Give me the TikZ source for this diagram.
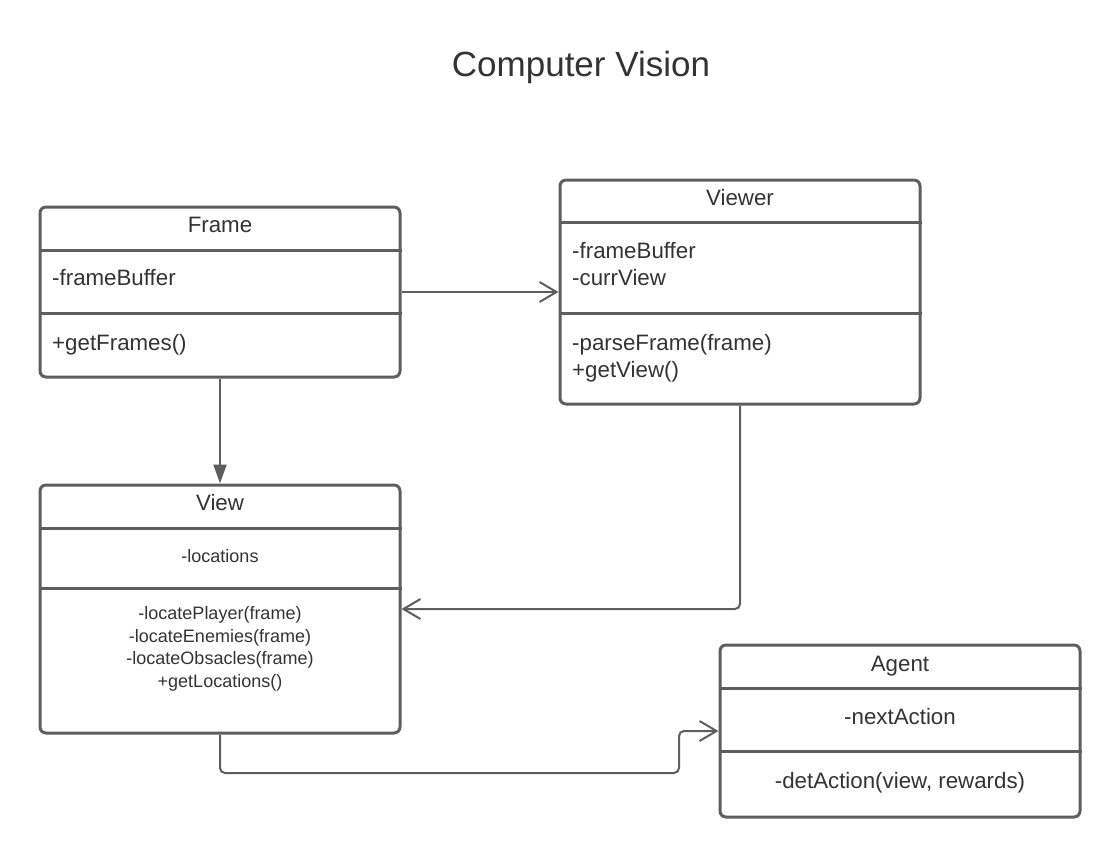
\documentclass[tikz,border=0pt]{standalone}
\usepackage{fontspec}
\setmainfont{Liberation Sans}
\usetikzlibrary{arrows.meta, positioning}

\definecolor{linegray}{HTML}{5E5E5E}
\definecolor{textgray}{HTML}{333333}

\tikzset{
    classbox/.style={draw=linegray, line width=3pt, rounded corners=6pt,
        minimum width=360pt, inner sep=0pt},
    divider/.style={draw=linegray, line width=3pt},
    head/.style={font=\fontsize{22.3}{26}\selectfont, text=textgray,
        text height=0.72em, text depth=0pt, inner sep=0pt},
    member/.style={head, anchor=west},
    small/.style={head, font=\fontsize{18}{22}\selectfont},
    link/.style={draw=linegray, line width=2pt},
    openhead/.style={link, -{Straight Barb[length=17pt, width=20pt]}},
    filledhead/.style={link, -{Triangle[length=19pt, width=13pt]}}
}

\begin{document}
\begin{tikzpicture}[x=1pt, y=-1pt]
    \useasboundingbox (0,0) rectangle (1120,857);

    \node[head, font=\fontsize{35}{40}\selectfont] (title) at (581,73) {Computer Vision};

    % Frame
    \node[classbox, minimum height=170pt] (frame) at (220,292) {};
    \draw[divider] (frame.west |- 0,250) -- (frame.east |- 0,250);
    \draw[divider] (frame.west |- 0,313) -- (frame.east |- 0,313);
    \node[head] (frameName) at (220,229) {Frame};
    \node[member] (frameBuf) at (52,282) {-frameBuffer};
    \node[member] (frameGet) at (52,347) {+getFrames()};

    % Viewer
    \node[classbox, minimum height=224pt] (viewer) at (740,292) {};
    \draw[divider] (viewer.west |- 0,222) -- (viewer.east |- 0,222);
    \draw[divider] (viewer.west |- 0,313) -- (viewer.east |- 0,313);
    \node[head] (viewerName) at (740,202) {Viewer};
    \node[member] (viewerBuf) at (572,255) {-frameBuffer};
    \node[member] (viewerCurr) at (572,282) {-currView};
    \node[member] (viewerParse) at (572,347) {-parseFrame(frame)};
    \node[member] (viewerGet) at (572,374) {+getView()};

    % View
    \node[classbox, minimum height=248pt] (view) at (220,609) {};
    \draw[divider] (view.west |- 0,528) -- (view.east |- 0,528);
    \draw[divider] (view.west |- 0,588) -- (view.east |- 0,588);
    \node[head] (viewName) at (220,507) {View};
    \node[small] (viewLoc) at (220,559) {-locations};
    \node[small] (viewPlayer) at (220,616) {-locatePlayer(frame)};
    \node[small] (viewEnemies) at (220,639) {-locateEnemies(frame)};
    \node[small] (viewObs) at (220,661) {-locateObsacles(frame)};
    \node[small] (viewGet) at (220,684) {+getLocations()};

    % Agent
    \node[classbox, minimum height=172pt] (agent) at (900,731) {};
    \draw[divider] (agent.west |- 0,688) -- (agent.east |- 0,688);
    \draw[divider] (agent.west |- 0,751) -- (agent.east |- 0,751);
    \node[head] (agentName) at (900,668) {Agent};
    \node[head] (agentNext) at (900,721) {-nextAction};
    \node[head] (agentDet) at (900,785) {-detAction(view, rewards)};

    % links
    \coordinate (bend) at (679,773);
    \draw[openhead] (frame.east) -- (viewer.west);
    \draw[filledhead] (frame.south) -- (view.north);
    \draw[openhead, rounded corners=5pt] (viewer.south) |- (view.east);
    \draw[openhead, rounded corners=5pt] (view.south) |- (bend) |- (agent.west);
\end{tikzpicture}
\end{document}
